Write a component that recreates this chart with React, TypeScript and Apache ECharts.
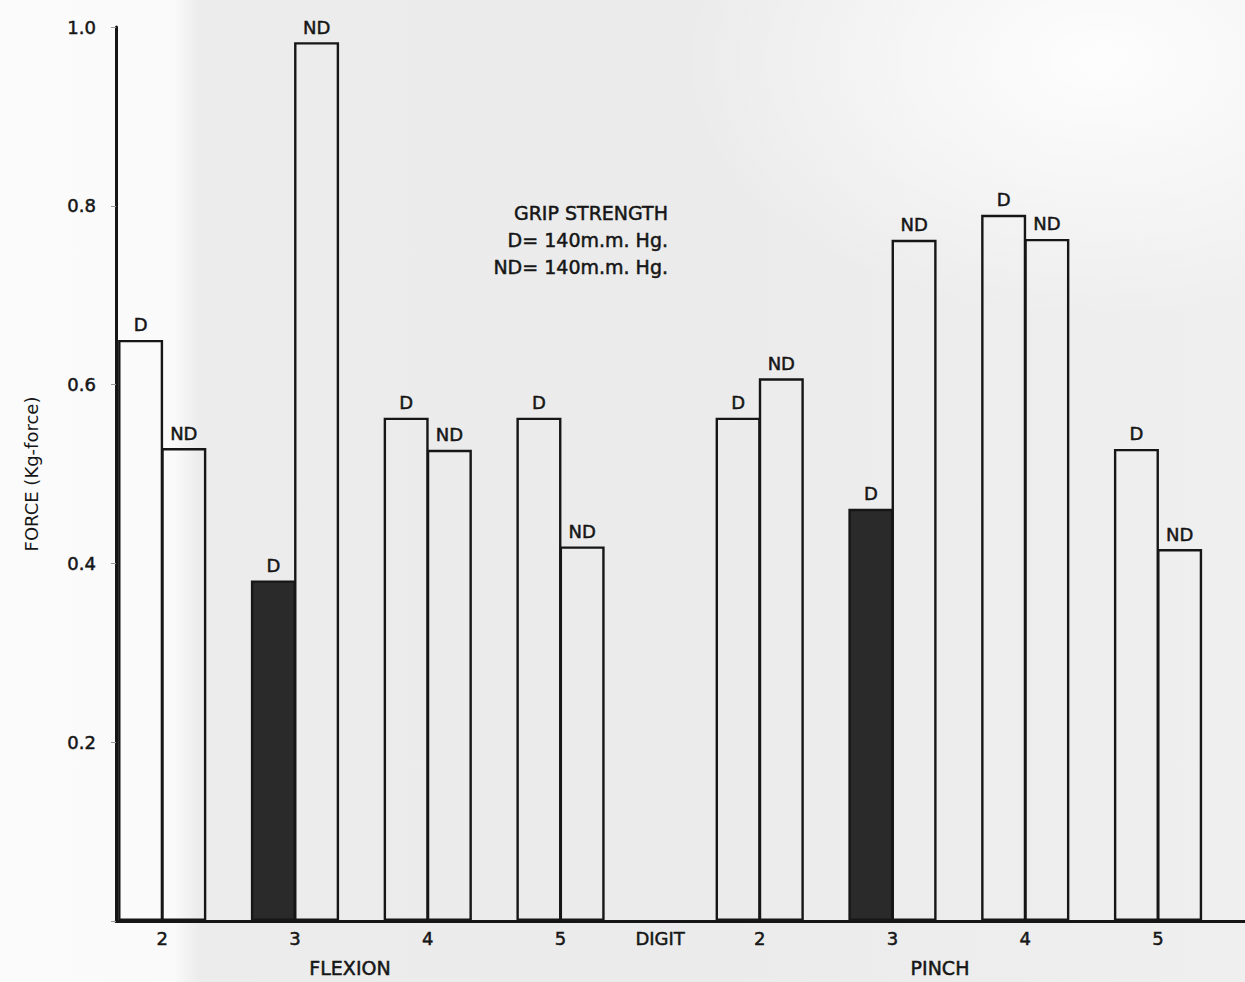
import React, { useEffect, useRef } from "react";
import * as echarts from "echarts";

// ---- data ----
const digits = ["2", "3", "4", "5", "2", "3", "4", "5"];
const sections = ["FLEXION", "PINCH"];
const dValues = [0.65, 0.381, 0.563, 0.563, 0.563, 0.461, 0.79, 0.528];
const ndValues = [0.529, 0.983, 0.527, 0.419, 0.607, 0.762, 0.763, 0.416];
const dFilled = [false, true, false, false, false, true, false, false];
const yTicks = [0.2, 0.4, 0.6, 0.8, 1.0];
const axisTitleX = "DIGIT";
const axisTitleY = "FORCE (Kg-force)";
const legendLines = ["GRIP STRENGTH", "D= 140m.m. Hg.", "ND= 140m.m. Hg."];

const FONT = "'DejaVu Sans', 'Noto Sans', sans-serif";
const INK = "#161616";
const BOLDEN = { textBorderColor: INK, textBorderWidth: 0.5 };

export default function App() {
  const ref = useRef<HTMLDivElement | null>(null);

  useEffect(() => {
    if (!ref.current) return;
    const chart = echarts.init(ref.current, null, { renderer: "svg" });

    // half-slot positions: groups two half-slots apart, extra half-slot gap around DIGIT
    const pos = digits.map((_, i) => i * 2 + (i >= 4 ? 1 : 0));
    const digitPos = (pos[3] + pos[4]) / 2;
    const labelMap = new Map<number, string>();
    pos.forEach((p, i) => labelMap.set(p, digits[i]));
    labelMap.set(digitPos, axisTitleX);

    const outline = { color: "rgba(0,0,0,0)", borderColor: INK, borderWidth: 2.4 };
    const solid = { color: "#2a2a2a", borderColor: INK, borderWidth: 2.4 };

    const labelStyle = (txt: string) => ({
      show: true,
      position: "top" as const,
      distance: 6,
      formatter: txt,
      color: INK,
      fontSize: 18,
      fontFamily: FONT,
      ...BOLDEN,
    });

    chart.setOption({
      animation: false,
      backgroundColor: "transparent",
      grid: { left: 116, right: 0, top: 27, bottom: 61, containLabel: false },
      xAxis: {
        type: "value",
        min: -0.696,
        max: 16.31,
        splitLine: { show: false },
        axisTick: { show: false },
        axisLine: { show: true, onZero: false, lineStyle: { color: INK, width: 3 } },
        axisLabel: {
          show: true,
          customValues: [...pos, digitPos],
          formatter: (v: number) => labelMap.get(v) ?? "",
          color: INK,
          fontSize: 18,
          fontFamily: FONT,
          margin: 8,
          ...BOLDEN,
        },
      },
      yAxis: {
        type: "value",
        min: 0,
        max: 1,
        interval: 0.2,
        name: axisTitleY,
        nameLocation: "middle",
        nameRotate: 90,
        nameGap: 76,
        nameTextStyle: { color: INK, fontSize: 18, fontFamily: FONT },
        splitLine: { show: false },
        axisLine: { show: true, onZero: false, lineStyle: { color: INK, width: 3 } },
        axisTick: { show: true, length: 5, lineStyle: { color: "#999", width: 1 } },
        axisLabel: {
          color: INK,
          fontSize: 18,
          fontFamily: FONT,
          margin: 20,
          ...BOLDEN,
          formatter: (v: number) => (yTicks.some((t) => Math.abs(t - v) < 1e-6) ? v.toFixed(1) : ""),
        },
      },
      series: [
        {
          name: "D",
          type: "bar",
          barWidth: 45,
          barGap: "-4%",
          clip: false,
          data: dValues.map((v, i) => ({ value: [pos[i], v], itemStyle: dFilled[i] ? solid : outline })),
          label: labelStyle("D"),
        },
        {
          name: "ND",
          type: "bar",
          barWidth: 45,
          barGap: "-4%",
          clip: false,
          data: ndValues.map((v, i) => ({ value: [pos[i], v], itemStyle: outline })),
          label: labelStyle("ND"),
        },
      ],
      graphic: [
        {
          type: "text",
          x: 350,
          y: 968,
          style: { text: sections[0], align: "center", verticalAlign: "middle", fill: INK, fontSize: 19, fontFamily: FONT, stroke: INK, lineWidth: 0.5 },
        },
        {
          type: "text",
          x: 940,
          y: 968,
          style: { text: sections[1], align: "center", verticalAlign: "middle", fill: INK, fontSize: 19, fontFamily: FONT, stroke: INK, lineWidth: 0.5 },
        },
        {
          type: "text",
          x: 668,
          y: 199,
          style: {
            text: legendLines.join("\n"),
            align: "right",
            verticalAlign: "top",
            lineHeight: 27,
            fill: INK,
            fontSize: 19,
            fontFamily: FONT,
            stroke: INK,
            lineWidth: 0.5,
          },
        },
      ],
    });

    return () => chart.dispose();
  }, []);

  return (
    <div
      style={{
        position: "fixed",
        left: 0,
        top: 0,
        width: 1245,
        height: 982,
        background:
          "radial-gradient(ellipse 420px 260px at 1100px 60px, rgba(255,255,255,0.9), rgba(255,255,255,0) 100%), linear-gradient(90deg, #fbfbfb 0%, #fafafa 14%, #ececec 16%, #ebebeb 55%, #efefef 100%)",
      }}
    >
      <div ref={ref} style={{ width: 1245, height: 982 }} />
    </div>
  );
}
